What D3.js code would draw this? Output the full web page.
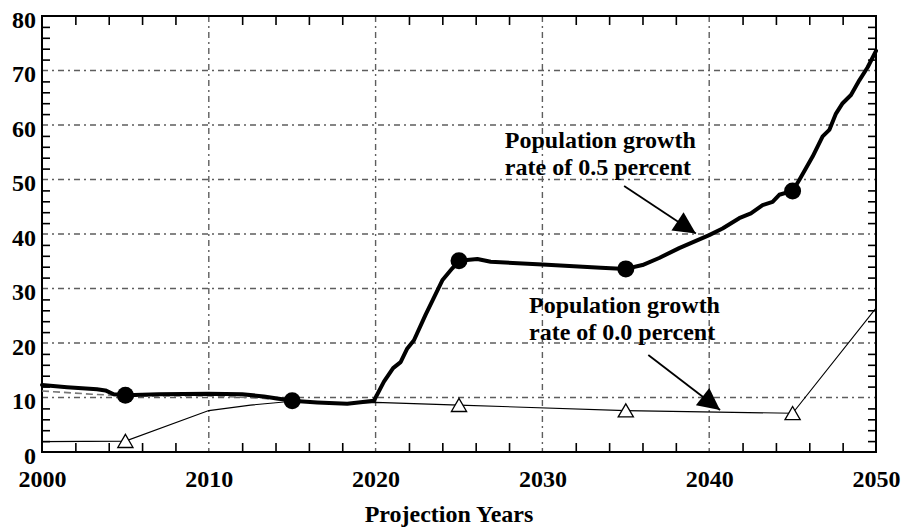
<!DOCTYPE html>
<html>
<head>
<meta charset="utf-8">
<script src="https://cdn.jsdelivr.net/npm/d3@7"></script>
<style>
  html, body { margin: 0; padding: 0; background: #fff; }
  svg { display: block; }
  text { font-family: "Liberation Serif", "Times New Roman", serif; font-weight: bold; fill: #000; }
</style>
</head>
<body>
<svg id="chart" width="914" height="531"></svg>
<script>
// Projected values, 2000-2050, for two population growth assumptions.

// Population growth rate of 0.5 percent (heavy line)
const growthHighYears  = [2000, 2001.5, 2003.3, 2003.8, 2004.3, 2005, 2007, 2010, 2012, 2013.3, 2015, 2016.5, 2018.3, 2019.9,
                          2020.5, 2021.05, 2021.5, 2021.9, 2022.3, 2023, 2024, 2024.6, 2025, 2026.1, 2026.9, 2030, 2033.5,
                          2035, 2036, 2037, 2038.2, 2040, 2040.8, 2041.8, 2042.5, 2043.2, 2043.8, 2044.2, 2045, 2045.4,
                          2046.2, 2046.8, 2047.2, 2047.6, 2048, 2048.5, 2049, 2049.5, 2050];
const growthHighValues = [12.3, 11.9, 11.5, 11.3, 10.6, 10.4, 10.6, 10.7, 10.6, 10.2, 9.4, 9.1, 8.85, 9.4,
                          12.9, 15.4, 16.5, 19.0, 20.5, 25.2, 31.5, 33.7, 35.1, 35.4, 34.9, 34.4, 33.8,
                          33.6, 34.3, 35.6, 37.4, 39.8, 41.0, 42.9, 43.8, 45.3, 45.9, 47.2, 47.9, 49.9,
                          54.2, 57.9, 59.1, 62.1, 64.0, 65.5, 68.2, 70.6, 73.6];
const growthHighMarkerYears  = [2005, 2015, 2025, 2035, 2045];
const growthHighMarkerValues = [10.4, 9.4, 35.1, 33.6, 47.9];

// Population growth rate of 0.0 percent (thin line)
const growthZeroYears  = [2000, 2005, 2010, 2012.5, 2015, 2018, 2020, 2025, 2035, 2045, 2050];
const growthZeroValues = [1.9, 2.0, 7.6, 8.6, 9.3, 8.9, 9.1, 8.6, 7.6, 7.1, 26.4];
const growthZeroMarkerYears  = [2005, 2025, 2035, 2045];
const growthZeroMarkerValues = [2.0, 8.6, 7.6, 7.1];

// Reference series (grey dashed)
const baseYears  = [2000, 2003, 2005, 2010, 2013, 2015];
const baseValues = [11.2, 10.6, 10.3, 10.3, 9.9, 9.4];

// Axis ticks
const xMajorTicks = [2000, 2010, 2020, 2030, 2040, 2050];
const yMajorTicks = [0, 10, 20, 30, 40, 50, 60, 70, 80];
const xMinorTicks = [2002, 2004, 2006, 2008, 2012, 2014, 2016, 2018, 2022, 2024, 2026, 2028,
                     2032, 2034, 2036, 2038, 2042, 2044, 2046, 2048];
const yMinorTicks = [2, 4, 6, 8, 12, 14, 16, 18, 22, 24, 26, 28, 32, 34, 36, 38,
                     42, 44, 46, 48, 52, 54, 56, 58, 62, 64, 66, 68, 72, 74, 76, 78];
const xAxisTitle = "Projection Years";

// Callout labels: text lines, text anchor and arrow (start -> tip) in data units
const calloutLines  = [["Population growth", "rate of 0.5 percent"], ["Population growth", "rate of 0.0 percent"]];
const calloutAnchor = [[2027.75, 55.7], [2029.2, 25.45]];
const calloutArrowFrom = [[2034.9, 48.8], [2036.35, 17.8]];
const calloutArrowTo   = [[2039.2, 40.1], [2040.65, 7.7]];

const svg = d3.select("#chart");
const plotLeft = 42, plotRight = 876, plotTop = 16, plotBottom = 452;
const fontSize = "24px";

const x = d3.scaleLinear().domain([2000, 2050]).range([plotLeft, plotRight]);
const y = d3.scaleLinear().domain([0, 80]).range([plotBottom, plotTop]);

// Grid (dash-dot) at major ticks
const grid = svg.append("g").attr("stroke", "#5e5e5e").attr("stroke-width", 1.4)
  .attr("stroke-dasharray", "6,4,2,4");
grid.selectAll("line.v").data(xMajorTicks.slice(1, -1)).join("line").attr("class", "v")
  .attr("x1", d => x(d)).attr("x2", d => x(d)).attr("y1", plotTop).attr("y2", plotBottom);
grid.selectAll("line.h").data(yMajorTicks.slice(1, -1)).join("line").attr("class", "h")
  .attr("y1", d => y(d)).attr("y2", d => y(d)).attr("x1", plotLeft).attr("x2", plotRight);

// Minor ticks on all four sides, pointing inward
function minorAxis(axis, transform) {
  const g = svg.append("g").attr("transform", transform).call(axis);
  g.select(".domain").remove();
  g.selectAll(".tick line").attr("stroke", "#000").attr("stroke-width", 1.6);
  g.selectAll(".tick text").remove();
}
minorAxis(d3.axisBottom(x).tickValues(xMinorTicks).tickSize(-9), `translate(0,${plotBottom})`);
minorAxis(d3.axisTop(x).tickValues(xMinorTicks).tickSize(-9), `translate(0,${plotTop})`);
minorAxis(d3.axisLeft(y).tickValues(yMinorTicks).tickSize(-8), `translate(${plotLeft},0)`);
minorAxis(d3.axisRight(y).tickValues(yMinorTicks).tickSize(-8), `translate(${plotRight},0)`);

// Tick labels
const xLab = svg.append("g").attr("transform", `translate(0,${plotBottom})`)
  .call(d3.axisBottom(x).tickValues(xMajorTicks).tickSize(0).tickPadding(0).tickFormat(d3.format("d")));
xLab.select(".domain").remove();
xLab.selectAll(".tick text").attr("dy", null).attr("y", 35)
  .style("font-family", "'Liberation Serif', 'Times New Roman', serif")
  .style("font-weight", "bold").style("font-size", fontSize).attr("fill", "#000");

const yLab = svg.append("g").attr("transform", `translate(${plotLeft},0)`)
  .call(d3.axisLeft(y).tickValues(yMajorTicks).tickSize(0).tickPadding(6).tickFormat(d3.format("d")));
yLab.select(".domain").remove();
yLab.selectAll(".tick text").attr("dy", null).attr("y", 11)
  .style("font-family", "'Liberation Serif', 'Times New Roman', serif")
  .style("font-weight", "bold").style("font-size", fontSize).attr("fill", "#000");

// Frame
svg.append("rect").attr("x", plotLeft).attr("y", plotTop)
  .attr("width", plotRight - plotLeft).attr("height", plotBottom - plotTop)
  .attr("fill", "none").attr("stroke", "#000").attr("stroke-width", 2);

// Axis title
svg.append("text").attr("x", 449).attr("y", 522).attr("text-anchor", "middle")
  .style("font-size", fontSize).text(xAxisTitle);

const line = d3.line().x(d => x(d[0])).y(d => y(d[1]));
const zip = (a, b) => a.map((v, i) => [v, b[i]]);

// Grey dashed reference line
svg.append("path").datum(zip(baseYears, baseValues)).attr("d", line)
  .attr("fill", "none").attr("stroke", "#777").attr("stroke-width", 1.6).attr("stroke-dasharray", "7,4");

// Thin line: 0.0 percent
svg.append("path").datum(zip(growthZeroYears, growthZeroValues)).attr("d", line)
  .attr("fill", "none").attr("stroke", "#000").attr("stroke-width", 1.1);

// Heavy line: 0.5 percent
svg.append("path").datum(zip(growthHighYears, growthHighValues)).attr("d", line)
  .attr("fill", "none").attr("stroke", "#000").attr("stroke-width", 4)
  .attr("stroke-linejoin", "round").attr("stroke-linecap", "round");

// Markers
svg.append("g").selectAll("circle").data(zip(growthHighMarkerYears, growthHighMarkerValues)).join("circle")
  .attr("cx", d => x(d[0])).attr("cy", d => y(d[1])).attr("r", 8.5).attr("fill", "#000");

const tri = d3.symbol().type(d3.symbolTriangle).size(100);
svg.append("g").selectAll("path").data(zip(growthZeroMarkerYears, growthZeroMarkerValues)).join("path")
  .attr("d", tri).attr("transform", d => `translate(${x(d[0])},${y(d[1]) + 2})`)
  .attr("fill", "#fff").attr("stroke", "#000").attr("stroke-width", 1.3);

// Callouts with filled arrowheads
const defs = svg.append("defs");
defs.append("marker").attr("id", "arrowhead").attr("viewBox", "0 0 10 10")
  .attr("refX", 10).attr("refY", 5).attr("markerUnits", "userSpaceOnUse")
  .attr("markerWidth", 26).attr("markerHeight", 22).attr("orient", "auto")
  .append("path").attr("d", "M0,0 L10,5 L0,10 Z").attr("fill", "#000");

calloutLines.forEach((lines, i) => {
  const t = svg.append("text").attr("x", x(calloutAnchor[i][0])).attr("y", y(calloutAnchor[i][1]))
    .style("font-size", fontSize);
  lines.forEach((s, j) => t.append("tspan").attr("x", x(calloutAnchor[i][0])).attr("dy", j ? 27 : 0).text(s));
  svg.append("line")
    .attr("x1", x(calloutArrowFrom[i][0])).attr("y1", y(calloutArrowFrom[i][1]))
    .attr("x2", x(calloutArrowTo[i][0])).attr("y2", y(calloutArrowTo[i][1]))
    .attr("stroke", "#000").attr("stroke-width", 1.8).attr("marker-end", "url(#arrowhead)");
});
</script>
</body>
</html>
